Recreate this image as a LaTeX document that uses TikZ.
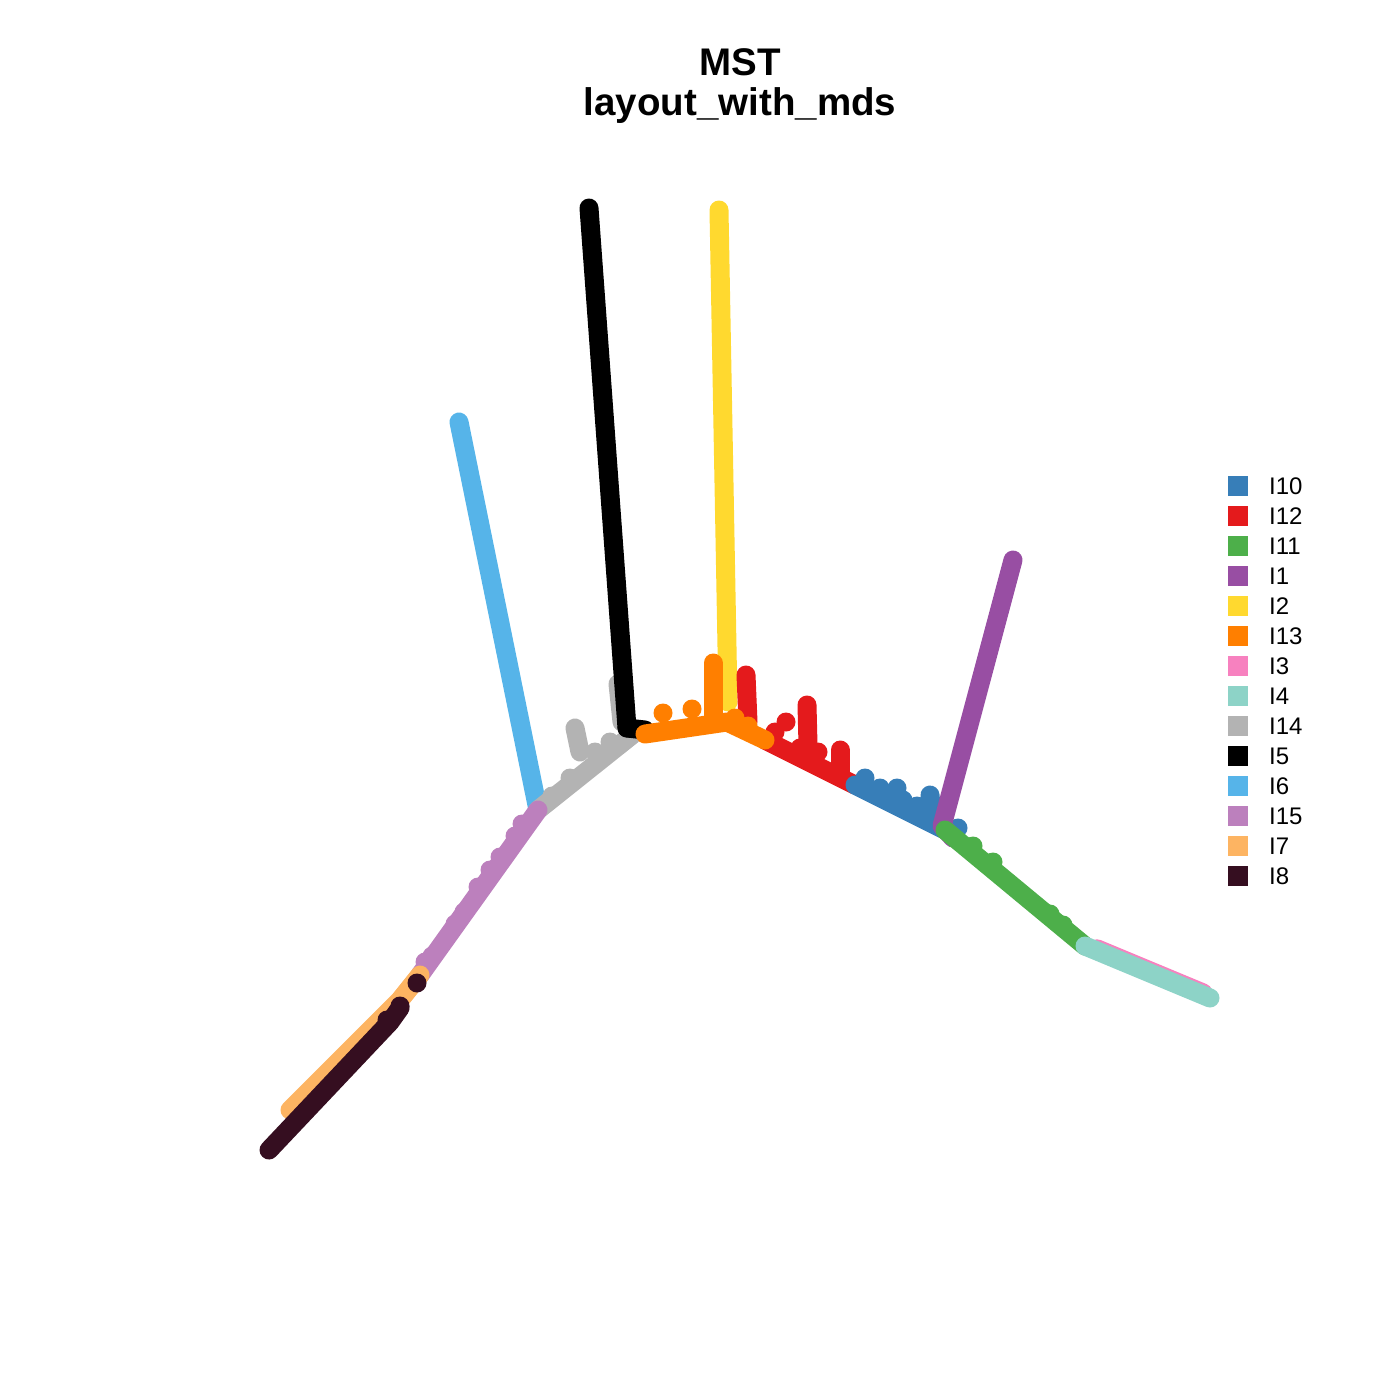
\documentclass[tikz,border=0pt]{standalone}
\usepackage{fontspec}
\setmainfont{Liberation Sans}
\definecolor{cTen}{HTML}{377EB8}
\definecolor{cTwelve}{HTML}{E41A1C}
\definecolor{cEleven}{HTML}{4DAF4A}
\definecolor{cOne}{HTML}{984EA3}
\definecolor{cTwo}{HTML}{FFD92F}
\definecolor{cThirteen}{HTML}{FF7F00}
\definecolor{cThree}{HTML}{F781BF}
\definecolor{cFour}{HTML}{8DD3C7}
\definecolor{cFourteen}{HTML}{B3B3B3}
\definecolor{cFive}{HTML}{000000}
\definecolor{cSix}{HTML}{56B4E9}
\definecolor{cFifteen}{HTML}{BC80BD}
\definecolor{cSeven}{HTML}{FDB462}
\definecolor{cEight}{HTML}{350E20}
\tikzset{
  branch/.style={line width=19pt, line cap=round, line join=round},
  spike/.style={line width=19pt, line cap=round},
  keybox/.style={minimum size=20pt, inner sep=0pt},
}
\begin{document}
\begin{tikzpicture}[x=1pt, y=-1pt]
  \useasboundingbox (0,0) rectangle (1400,1400);
  % title
  \node[font=\bfseries\fontsize{38.5}{40}\selectfont, align=center] (title) at (740,86) {MST\\layout\_with\_mds};
  % hubs of the tree
  \coordinate (hub) at (727,722);
  \coordinate (kGray) at (632,735);
  \coordinate (kBlue) at (538,810);
  \coordinate (kRed) at (765,740);
  \coordinate (kTen) at (855,785);
  \coordinate (kOne) at (945,830);
  \coordinate (kFour) at (1085,946);
  \coordinate (kSeven) at (420,975);
  % I6
  \draw[branch, cSix] (459,422) -- (kBlue);
  % I14
  \draw[spike, cFourteen] (618,684) -- (622,722);
  \draw[spike, cFourteen] (575,728) -- (580,752);
  \draw[branch, cFourteen] (kGray) -- (kBlue);
  \foreach \px/\py in {570/778, 552/796, 595/752, 610/742}
    \fill[cFourteen] (\px,\py) circle[radius=9.5];
  % I5
  \draw[branch, cFive] (589,208) -- (627,728);
  \draw[branch, cFive] (627,728) -- (645,730);
  % I2
  \draw[branch, cTwo] (719,210) -- (728,702);
  % I12
  \draw[spike, cTwelve] (746,675) -- (748,722);
  \draw[spike, cTwelve] (807,705) -- (808,745);
  \draw[spike, cTwelve] (840,750) -- (840,772);
  \draw[branch, cTwelve] (kRed) -- (kTen);
  \foreach \px/\py in {786/722, 775/732, 818/752, 800/748}
    \fill[cTwelve] (\px,\py) circle[radius=9.5];
  % I13
  \draw[spike, cThirteen] (713,663) -- (713,718);
  \draw[branch, cThirteen] (645,734) -- (hub) -- (kRed);
  \foreach \px/\py in {663/713, 692/709, 735/718, 748/726}
    \fill[cThirteen] (\px,\py) circle[radius=9.5];
  % I10
  \draw[spike, cTen] (930,795) -- (932,815);
  \draw[branch, cTen] (kTen) -- (kOne);
  \foreach \px/\py in {865/778, 880/788, 897/788, 903/800, 917/806, 958/828}
    \fill[cTen] (\px,\py) circle[radius=9.5];
  % I1
  \draw[branch, cOne] (1013,560) -- (942,826) -- (953,838);
  % I11
  \draw[branch, cEleven] (kOne) -- (kFour);
  \foreach \px/\py in {973/846, 993/862, 1050/914, 1063/925}
    \fill[cEleven] (\px,\py) circle[radius=9.5];
  % I3 and I4
  \draw[branch, cThree] (1097,948.8) -- (1203,992.9);
  \draw[branch, cFour] (kFour) -- (1210,998);
  % I15
  \draw[branch, cFifteen] (kBlue) -- (kSeven);
  \foreach \px/\py in {522/824, 515/836, 500/857, 490/870, 478/887, 464/912, 455/924, 432/956, 425/962}
    \fill[cFifteen] (\px,\py) circle[radius=9.5];
  % I7
  \draw[branch, cSeven] (kSeven) -- (400,1000) -- (290,1110);
  % I8
  \draw[branch, cEight] (269,1150) -- (390,1022) -- (400,1008);
  \foreach \px/\py in {417/983, 400/1006, 387/1020}
    \fill[cEight] (\px,\py) circle[radius=9.5];
  % legend
  \foreach \lab/\col [count=\i] in {I10/cTen, I12/cTwelve, I11/cEleven, I1/cOne,
      I2/cTwo, I13/cThirteen, I3/cThree, I4/cFour, I14/cFourteen, I5/cFive,
      I6/cSix, I15/cFifteen, I7/cSeven, I8/cEight} {
    \node[keybox, fill=\col] (key\i) at (1238,456+30*\i) {};
    \node[anchor=west, font=\fontsize{24}{26}\selectfont, inner sep=0pt] (lab\i) at (1269,456+30*\i) {\lab};
  }
\end{tikzpicture}
\end{document}
